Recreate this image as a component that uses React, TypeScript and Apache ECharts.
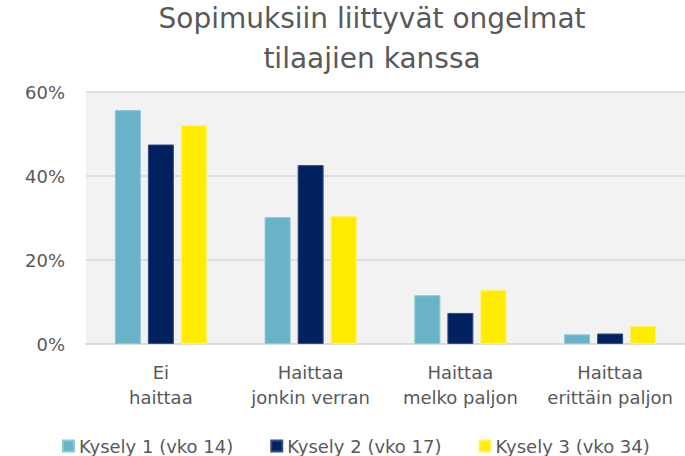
import React, { useEffect, useRef } from "react";
import * as echarts from "echarts";

const categories = ["Ei\nhaittaa", "Haittaa\njonkin verran", "Haittaa\nmelko paljon", "Haittaa\nerittäin paljon"];
const seriesNames = ["Kysely 1 (vko 14)", "Kysely 2 (vko 17)", "Kysely 3 (vko 34)"];
const kysely1 = [55.7, 30.2, 11.6, 2.3];
const kysely2 = [47.5, 42.6, 7.4, 2.5];
const kysely3 = [52.1, 30.5, 12.9, 4.3];
const titleLines = ["Sopimuksiin liittyvät ongelmat", "tilaajien kanssa"];
const colors = ["#68b3c8", "#002060", "#ffec00"];
const borders = ["#8fc6d6", "#33507f", "#fff266"];
const yTicks = [0, 20, 40, 60];

const FONT = "DejaVu Sans";
const TEXT = "#595959";

export default function App() {
  const ref = useRef<HTMLDivElement>(null);
  useEffect(() => {
    if (!ref.current) return;
    const chart = echarts.init(ref.current, undefined, { renderer: "svg" });
    const data = [kysely1, kysely2, kysely3];
    chart.setOption({
      animation: false,
      title: titleLines.map((t, i) => ({
        text: t,
        left: 372,
        top: 4 + i * 40,
        padding: 0,
        textAlign: "center",
        textStyle: { fontFamily: FONT, fontSize: 28, lineHeight: 28, fontWeight: "normal", color: TEXT },
      })),
      legend: {
        left: 62,
        top: 437,
        padding: 0,
        itemWidth: 11,
        itemHeight: 11,
        itemGap: 37,
        icon: "rect",
        textStyle: { fontFamily: FONT, fontSize: 18, color: TEXT },
        data: seriesNames,
      },
      grid: {
        left: 86,
        right: 0,
        top: 92,
        bottom: 112,
        show: true,
        backgroundColor: "#f2f2f2",
        borderWidth: 0,
        containLabel: false,
      },
      xAxis: {
        type: "category",
        data: categories,
        axisLine: { show: true, lineStyle: { color: "#d9d9d9", width: 2 } },
        axisTick: { show: false },
        axisLabel: {
          interval: 0,
          margin: 16,
          fontFamily: FONT,
          fontSize: 18,
          lineHeight: 25,
          color: TEXT,
        },
      },
      yAxis: {
        type: "value",
        min: yTicks[0],
        max: yTicks[yTicks.length - 1],
        interval: 20,
        axisLine: { show: false },
        axisTick: { show: false },
        splitLine: { show: true, lineStyle: { color: "#d9d9d9", width: 1.5 } },
        axisLabel: {
          margin: 21,
          fontFamily: FONT,
          fontSize: 18,
          color: TEXT,
          formatter: (v: number) => `${v}%`,
        },
      },
      series: seriesNames.map((name, i) => ({
        name,
        type: "bar",
        data: data[i],
        barWidth: 26,
        barGap: "27%",
        itemStyle: { color: colors[i], borderColor: borders[i], borderWidth: 1 },
      })),
    });
    return () => chart.dispose();
  }, []);
  return <div ref={ref} style={{ width: 685, height: 456, position: "absolute", left: 0, top: 0 }} />;
}
